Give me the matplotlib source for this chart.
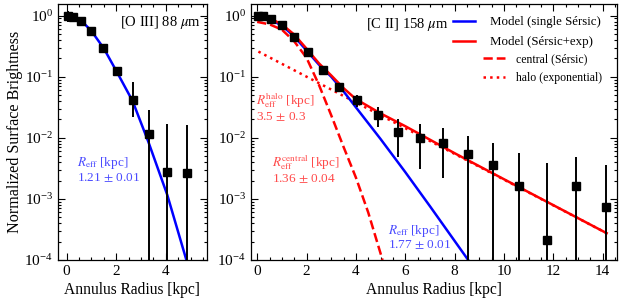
"""Normalized surface brightness profiles of [O III] 88um and [C II] 158um."""

import matplotlib
matplotlib.use("Agg")
import matplotlib.pyplot as plt
from matplotlib.ticker import MultipleLocator

plt.rcParams["font.family"] = ["Liberation Serif", "DejaVu Serif"]
plt.rcParams["mathtext.fontset"] = "stix"

# [O III] 88 um annuli
r_oiii = [0.05, 0.27, 0.58, 0.99, 1.48, 2.02, 2.66, 3.31, 4.06, 4.84]
sb_oiii = [1.0, 0.96, 0.83, 0.56, 0.29, 0.126, 0.041, 0.0114, 0.0028, 0.0027]
sb_oiii_hi = [1.2, 1.0, 0.87, 0.58, 0.30, 0.135, 0.083, 0.028, 0.017, 0.016]
sb_oiii_lo = [0.8, 0.92, 0.79, 0.54, 0.28, 0.118, 0.022, 1e-6, 1e-6, 1e-6]

# single Sersic model for [O III]
r_oiii_model = [0.05, 0.6, 1.0, 1.5, 2.0, 2.66, 3.3, 4.06, 4.83]
sb_oiii_model = [1.0, 0.82, 0.56, 0.29, 0.125, 0.040, 0.0085, 0.00116, 1e-4]

# [C II] 158 um annuli
r_cii = [0.04, 0.24, 0.58, 1.01, 1.50, 2.04, 2.68, 3.33, 4.05, 4.88,
         5.72, 6.60, 7.54, 8.53, 9.57, 10.62, 11.76, 12.92, 14.12]
sb_cii = [1.0, 0.97, 0.88, 0.69, 0.44, 0.25, 0.129, 0.067, 0.042, 0.0237,
          0.0126, 0.0098, 0.0083, 0.0054, 0.0036, 0.0016, 0.00021, 0.00163, 0.00073]
sb_cii_hi = [1.05, 1.0, 0.91, 0.71, 0.46, 0.26, 0.135, 0.072, 0.050, 0.032,
             0.020, 0.0166, 0.0147, 0.0107, 0.0082, 0.0056, 0.0038, 0.0048, 0.0036]
sb_cii_lo = [0.95, 0.94, 0.85, 0.67, 0.42, 0.24, 0.123, 0.062, 0.032, 0.015,
             0.0049, 0.0031, 0.0022, 1e-6, 1e-6, 1e-6, 1e-6, 1e-6, 1e-6]

# [C II] models
r_single = [0.0, 0.5, 1.0, 1.5, 2.0, 2.5, 3.0, 3.5, 4.0, 5.0, 6.0, 7.0, 8.55]
sb_single = [1.0, 0.87, 0.69, 0.457, 0.269, 0.158, 0.10, 0.0575, 0.0316,
             0.00955, 0.00275, 0.00076, 1e-4]

r_total = [0.0, 0.5, 1.0, 1.5, 2.0, 2.5, 3.0, 3.5, 4.0, 5.0, 6.0, 8.0, 10.0, 12.0, 14.16]
sb_total = [1.02, 0.91, 0.72, 0.49, 0.288, 0.166, 0.105, 0.065, 0.043, 0.0251,
            0.0155, 0.0056, 0.0021, 0.00079, 0.000275]

r_central = [0.0, 0.5, 1.0, 1.5, 2.0, 2.5, 3.0, 3.5, 4.0, 4.5, 5.08]
sb_central = [0.79, 0.72, 0.59, 0.38, 0.204, 0.074, 0.0234, 0.0071, 0.00224, 0.0006, 1e-4]

r_halo = [0.05, 14.16]
sb_halo = [0.258, 0.000275]

BLUE_TXT = "#4a4aff"
RED_TXT = "#ff4a4a"
LABEL_SIZE = 11.2


def style_axis(ax, xlim, major, minor):
    ax.set_yscale("log")
    ax.set_ylim(1e-4, 1.55)
    ax.set_xlim(*xlim)
    ax.xaxis.set_major_locator(MultipleLocator(major))
    ax.xaxis.set_minor_locator(MultipleLocator(minor))
    ax.tick_params(which="both", direction="in", top=True, right=True,
                   labelsize=11, width=0.8)
    ax.tick_params(which="major", length=5)
    ax.tick_params(which="minor", length=2.5)
    for sp in ax.spines.values():
        sp.set_linewidth(0.9)
    ax.set_xlabel("Annulus Radius [kpc]", fontsize=LABEL_SIZE, labelpad=3)


def draw_points(ax, r, sb, lo, hi):
    yerr = [[v - l for v, l in zip(sb, lo)], [h - v for v, h in zip(sb, hi)]]
    ax.errorbar(r, sb, yerr=yerr, fmt="s", color="black", ms=6.3,
                elinewidth=1.4, capsize=0, zorder=5)


fig = plt.figure(figsize=(6.23, 3.06), dpi=100)
ax1 = fig.add_axes([58 / 623, 1 - 260 / 306, 148.7 / 623, 256 / 306])
ax2 = fig.add_axes([251 / 623, 1 - 260 / 306, 366 / 623, 256 / 306])

# left panel: [O III]
ax1.plot(r_oiii_model, sb_oiii_model, color="blue", lw=1.8, zorder=3)
draw_points(ax1, r_oiii, sb_oiii, sb_oiii_lo, sb_oiii_hi)
style_axis(ax1, (-0.35, 5.65), 2, 0.5)
ax1.set_ylabel("Normalized Surface Brightness", fontsize=LABEL_SIZE + 0.4, labelpad=1)
ax1.text(0.686, 0.926, "[O III] 88 $\\mu$m", transform=ax1.transAxes,
         ha="center", va="center", fontsize=10.5)
ax1.text(0.128, 0.352, "$R_{\\rm eff}$ [kpc]\n1.21 $\\pm$ 0.01", transform=ax1.transAxes,
         ha="left", va="center", fontsize=9.5, color=BLUE_TXT, linespacing=1.0)

# right panel: [C II]
ax2.plot(r_halo, sb_halo, color="red", lw=1.8, ls=":", zorder=2)
ax2.plot(r_central, sb_central, color="red", lw=1.8, ls="--", zorder=2)
ax2.plot(r_single, sb_single, color="blue", lw=1.8, zorder=3)
ax2.plot(r_total, sb_total, color="red", lw=1.8, zorder=4)
draw_points(ax2, r_cii, sb_cii, sb_cii_lo, sb_cii_hi)
style_axis(ax2, (-0.25, 14.58), 2, 0.5)
ax2.text(0.428, 0.918, "[C II] 158 $\\mu$m", transform=ax2.transAxes,
         ha="center", va="center", fontsize=10.5)

h_single, = ax2.plot([], [], color="blue", lw=1.8)
h_total, = ax2.plot([], [], color="red", lw=1.8)
h_central, = ax2.plot([], [], color="red", lw=1.8, ls="--")
h_halo, = ax2.plot([], [], color="red", lw=1.8, ls=":")
leg1 = ax2.legend([h_single, h_total], ["Model (single Sérsic)", "Model (Sérsic+exp)"],
                  loc="upper left", bbox_to_anchor=(0.552, 0.952), frameon=False,
                  fontsize=9.3, borderpad=0, borderaxespad=0, handlelength=1.7,
                  handletextpad=1.2, labelspacing=0.6)
ax2.add_artist(leg1)
ax2.legend([h_central, h_halo], ["central (Sérsic)", "halo (exponential)"],
           loc="upper left", bbox_to_anchor=(0.634, 0.808), frameon=False,
           fontsize=8.5, borderpad=0, borderaxespad=0, handlelength=1.9,
           handletextpad=0.9, labelspacing=0.55)

ax2.text(0.014, 0.596, "$R_{\\rm eff}^{\\rm halo}$ [kpc]\n3.5 $\\pm$ 0.3",
         transform=ax2.transAxes, ha="left", va="center", fontsize=9.5,
         color=RED_TXT, linespacing=1.0)
ax2.text(0.057, 0.354, "$R_{\\rm eff}^{\\rm central}$ [kpc]\n1.36 $\\pm$ 0.04",
         transform=ax2.transAxes, ha="left", va="center", fontsize=9.5,
         color=RED_TXT, linespacing=1.0)
ax2.text(0.374, 0.09, "$R_{\\rm eff}$ [kpc]\n1.77 $\\pm$ 0.01",
         transform=ax2.transAxes, ha="left", va="center", fontsize=9.5,
         color=BLUE_TXT, linespacing=1.0)

fig.savefig("out.png", dpi=100)
